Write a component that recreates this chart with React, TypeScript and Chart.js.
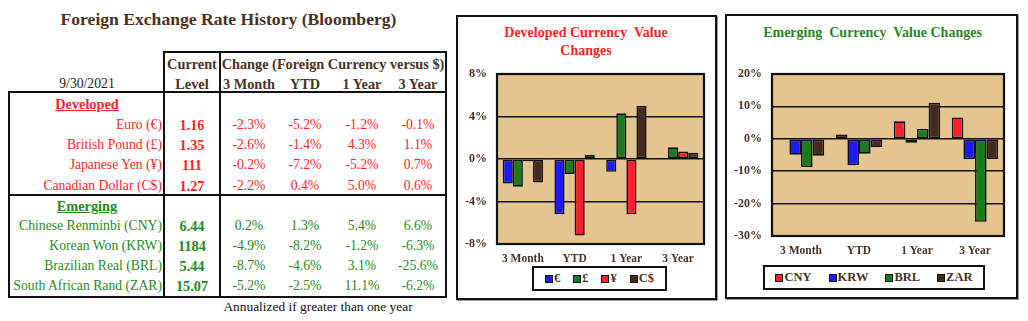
import React, { useEffect, useRef } from "react";
import { Chart, registerables } from "chart.js";
Chart.register(...registerables);

// ---------- data ----------
const periods = ["3 Month", "YTD", "1 Year", "3 Year"];

const developedNames = ["Euro (€)", "British Pound (£)", "Japanese Yen (¥)", "Canadian Dollar (C$)"];
const developedCodes = ["€", "£", "¥", "C$"];
const developedLevels = ["1.16", "1.35", "111", "1.27"];
const euroChanges = [-2.3, -5.2, -1.2, -0.1];
const poundChanges = [-2.6, -1.4, 4.3, 1.1];
const yenChanges = [-0.2, -7.2, -5.2, 0.7];
const cadChanges = [-2.2, 0.4, 5.0, 0.6];

const emergingNames = ["Chinese Renminbi (CNY)", "Korean Won (KRW)", "Brazilian Real (BRL)", "South African Rand (ZAR)"];
const emergingCodes = ["CNY", "KRW", "BRL", "ZAR"];
const emergingLevels = ["6.44", "1184", "5.44", "15.07"];
const cnyChanges = [0.2, 1.3, 5.4, 6.6];
const krwChanges = [-4.9, -8.2, -1.2, -6.3];
const brlChanges = [-8.7, -4.6, 3.1, -25.6];
const zarChanges = [-5.2, -2.5, 11.1, -6.2];

const developedTicks = [8, 4, 0, -4, -8];
const emergingTicks = [20, 10, 0, -10, -20, -30];

// ---------- styles ----------
const SERIF = '"Liberation Serif", "Times New Roman", serif';
const RED = "#ff2424";
const GREEN = "#1f8a26";
const BROWN = "#4a3222";
const LINE = "#111";
const BLUE_BAR = "#1a1aff";
const GREEN_BAR = "#1a7a1f";
const RED_BAR = "#ff1f2a";
const BROWN_BAR = "#45291c";
const TAN = "#e3c590";

const developedColors = [BLUE_BAR, GREEN_BAR, RED_BAR, BROWN_BAR];
const emergingColors = [RED_BAR, BLUE_BAR, GREEN_BAR, BROWN_BAR];

const developedSeries = [euroChanges, poundChanges, yenChanges, cadChanges];
const emergingSeries = [cnyChanges, krwChanges, brlChanges, zarChanges];

const fmt = (v: number) => v.toFixed(1) + "%";

function Txt(props: {
  x: number; y: number; w?: number; align?: "left" | "center" | "right";
  size?: number; bold?: boolean; color?: string; underline?: boolean; children: React.ReactNode;
}) {
  const w = props.w ?? 260;
  const align = props.align ?? "center";
  const left = align === "center" ? props.x - w / 2 : align === "right" ? props.x - w : props.x;
  return (
    <div
      style={{
        position: "absolute", left, top: props.y - 10, width: w, height: 20, lineHeight: "20px",
        textAlign: align, fontFamily: SERIF, fontSize: props.size ?? 13.7,
        fontWeight: props.bold ? "bold" : "normal", color: props.color ?? "#222",
        whiteSpace: "pre", textDecoration: props.underline ? "underline" : "none",
      }}
    >
      {props.children}
    </div>
  );
}

function HLine({ x1, x2, y }: { x1: number; x2: number; y: number }) {
  return <div style={{ position: "absolute", left: x1, top: y - 1, width: x2 - x1, height: 2, background: LINE }} />;
}
function VLine({ x, y1, y2 }: { x: number; y1: number; y2: number }) {
  return <div style={{ position: "absolute", left: x - 1, top: y1, width: 2, height: y2 - y1, background: LINE }} />;
}

const colCenters = [249, 305, 362, 418];

function Table() {
  const devRows = [125, 145, 165, 186];
  const emRows = [226, 246, 266, 286];
  const devVals = developedNames.map((_, i) => developedSeries[i]);
  const emVals = emergingNames.map((_, i) => emergingSeries[i]);
  return (
    <>
      <Txt x={228.5} y={19} w={420} size={17.6} bold color={BROWN}>Foreign Exchange Rate History (Bloomberg)</Txt>
      <Txt x={87} y={84} size={13.7}>9/30/2021</Txt>
      <Txt x={192} y={64} size={14.3} bold color={BROWN}>Current</Txt>
      <Txt x={192} y={84} size={14.3} bold color={BROWN}>Level</Txt>
      <Txt x={333} y={64} size={14.3} bold color={BROWN}>Change (Foreign Currency versus $)</Txt>
      {periods.map((p, i) => (
        <Txt key={p} x={colCenters[i]} y={84} w={80} size={14.3} bold color={BROWN}>{p}</Txt>
      ))}
      <Txt x={87} y={104} size={14.3} bold underline color={RED}>Developed</Txt>
      {developedNames.map((n, i) => (
        <React.Fragment key={n}>
          <Txt x={162} y={devRows[i]} align="right" color={RED}>{n}</Txt>
          <Txt x={192} y={devRows[i]} w={60} size={14.3} bold color={RED}>{developedLevels[i]}</Txt>
          {devVals[i].map((v, j) => (
            <Txt key={j} x={colCenters[j]} y={devRows[i]} w={60} color={RED}>{fmt(v)}</Txt>
          ))}
        </React.Fragment>
      ))}
      <Txt x={87} y={206} size={14.3} bold underline color={GREEN}>Emerging</Txt>
      {emergingNames.map((n, i) => (
        <React.Fragment key={n}>
          <Txt x={162} y={emRows[i]} align="right" color={GREEN}>{n}</Txt>
          <Txt x={192} y={emRows[i]} w={60} size={14.3} bold color={GREEN}>{emergingLevels[i]}</Txt>
          {emVals[i].map((v, j) => (
            <Txt key={j} x={colCenters[j]} y={emRows[i]} w={60} color={GREEN}>{fmt(v)}</Txt>
          ))}
        </React.Fragment>
      ))}
      <Txt x={318} y={307} size={13.4} color="#111">Annualized if greater than one year</Txt>
      {/* lines */}
      <HLine x1={163} x2={447} y={52} />
      <HLine x1={8} x2={447} y={92} />
      <HLine x1={8} x2={447} y={195} />
      <HLine x1={8} x2={447} y={297} />
      <VLine x={9} y1={91} y2={298} />
      <VLine x={164} y1={51} y2={298} />
      <VLine x={220} y1={51} y2={298} />
      <VLine x={446} y1={51} y2={298} />
    </>
  );
}

const panelPlugin = {
  id: "panelPlugin",
  beforeDraw(chart: any) {
    const a = chart.chartArea;
    const ctx = chart.ctx;
    ctx.save();
    ctx.fillStyle = TAN;
    ctx.fillRect(a.left, a.top, a.right - a.left, a.bottom - a.top);
    ctx.restore();
  },
  afterDraw(chart: any) {
    const a = chart.chartArea;
    const ctx = chart.ctx;
    ctx.save();
    ctx.strokeStyle = LINE;
    ctx.lineWidth = 2.2;
    ctx.strokeRect(a.left, a.top, a.right - a.left, a.bottom - a.top);
    ctx.restore();
  },
};

function BarPanel(props: {
  left: number; top: number; width: number; height: number;
  plotLeft: number; plotTop: number; plotRight: number; plotBottom: number;
  series: number[][]; codes: string[]; colors: string[]; ticks: number[]; catPct: number;
}) {
  const ref = useRef<HTMLCanvasElement>(null);
  useEffect(() => {
    const p = props;
    const chart = new Chart(ref.current!, {
      type: "bar",
      data: {
        labels: periods,
        datasets: p.series.map((s, i) => ({
          label: p.codes[i],
          data: s,
          backgroundColor: p.colors[i],
          borderColor: LINE,
          borderWidth: 1.6,
          borderSkipped: false,
          categoryPercentage: p.catPct,
          barPercentage: 1,
        })),
      },
      options: {
        animation: false,
        responsive: false,
        maintainAspectRatio: false,
        layout: { padding: { top: p.plotTop - p.top, right: p.left + p.width - p.plotRight, left: 0, bottom: 0 } },
        plugins: { legend: { display: false }, title: { display: false }, tooltip: { enabled: false } },
        scales: {
          x: {
            grid: { display: false, drawTicks: false },
            border: { display: false },
            ticks: { color: BROWN, font: { family: SERIF, size: 11.5, weight: "bold" }, padding: 8 },
            afterFit: (s: any) => { s.height = p.top + p.height - p.plotBottom; },
          },
          y: {
            min: p.ticks[p.ticks.length - 1],
            max: p.ticks[0],
            afterBuildTicks: (axis: any) => { axis.ticks = p.ticks.slice().reverse().map((v) => ({ value: v })); },
            ticks: {
              color: BROWN,
              font: { family: SERIF, size: 12, weight: "bold" },
              padding: 10,
              callback: (v: any) => v + "%",
            },
            grid: { color: LINE, lineWidth: 1.6, drawTicks: false },
            border: { display: false },
            afterFit: (s: any) => { s.width = p.plotLeft - p.left; },
          },
        },
      } as any,
      plugins: [panelPlugin],
    });
    return () => chart.destroy();
  }, []);
  return (
    <canvas
      ref={ref}
      width={props.width}
      height={props.height}
      style={{ position: "absolute", left: props.left, top: props.top, width: props.width, height: props.height }}
    />
  );
}

function Legend(props: { left: number; top: number; width: number; height: number; codes: string[]; colors: string[]; gap: number }) {
  return (
    <div
      style={{
        position: "absolute", left: props.left, top: props.top, width: props.width, height: props.height,
        border: `2px solid ${LINE}`, boxSizing: "border-box", display: "flex", alignItems: "center",
        justifyContent: "center", gap: props.gap, background: "#fff",
      }}
    >
      {props.codes.map((c, i) => (
        <div key={c} style={{ display: "flex", alignItems: "center" }}>
          <div style={{ width: 6, height: 6, background: props.colors[i], border: `1.5px solid ${LINE}`, marginRight: 1 }} />
          <span style={{ fontFamily: SERIF, fontWeight: "bold", fontSize: 12.5, color: BROWN }}>{c}</span>
        </div>
      ))}
    </div>
  );
}

function Box({ left, top, width, height }: { left: number; top: number; width: number; height: number }) {
  return (
    <div
      style={{
        position: "absolute", left, top, width, height, border: `2px solid ${LINE}`,
        boxSizing: "border-box", boxShadow: "1px 1px 0 #999",
      }}
    />
  );
}

export default function App() {
  return (
    <div style={{ position: "absolute", left: 0, top: 0, width: 1028, height: 321, background: "#fff", overflow: "hidden" }}>
      <Table />

      <Box left={456} top={15} width={261} height={285} />
      <Txt x={586} y={33} w={250} size={14} bold color={RED}>{"Developed Currency  Value"}</Txt>
      <Txt x={586} y={51} w={250} size={14} bold color={RED}>Changes</Txt>
      <BarPanel
        left={456} top={15} width={261} height={285}
        plotLeft={497} plotTop={74} plotRight={704} plotBottom={244}
        series={developedSeries} codes={developedCodes} colors={developedColors}
        ticks={developedTicks} catPct={0.78}
      />
      <Legend left={532} top={266} width={135} height={25} codes={developedCodes} colors={developedColors} gap={13} />

      <Box left={725} top={14} width={293} height={285} />
      <Txt x={872.5} y={33} w={280} size={14} bold color={GREEN}>{"Emerging  Currency  Value Changes"}</Txt>
      <BarPanel
        left={725} top={14} width={293} height={285}
        plotLeft={772} plotTop={74} plotRight={1004} plotBottom={236}
        series={emergingSeries} codes={emergingCodes} colors={emergingColors}
        ticks={emergingTicks} catPct={0.8}
      />
      <Legend left={763} top={265} width={222} height={25} codes={emergingCodes} colors={emergingColors} gap={17} />
    </div>
  );
}
